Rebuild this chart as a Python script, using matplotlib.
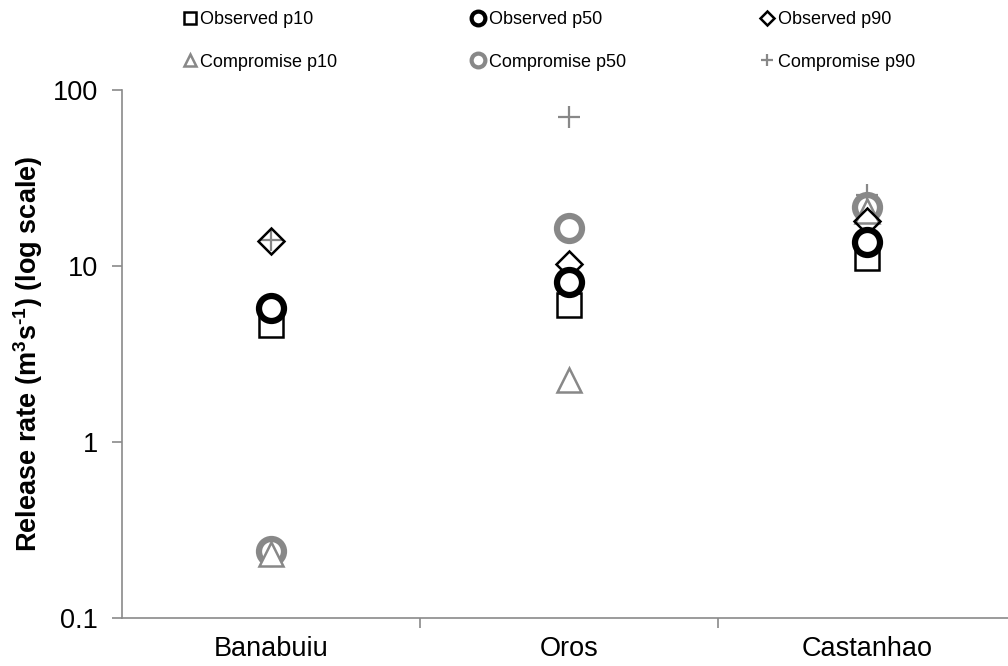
import numpy as np
import matplotlib.pyplot as plt
from matplotlib.ticker import FixedLocator, NullLocator, FixedFormatter

plt.rcParams['font.family'] = ['Liberation Sans', 'DejaVu Sans']
plt.rcParams['mathtext.fontset'] = 'custom'
plt.rcParams['mathtext.rm'] = 'Liberation Sans:bold'
plt.rcParams['mathtext.default'] = 'rm'

# reservoirs and release percentiles (m3/s)
reservoirs = ["Banabuiu", "Oros", "Castanhao"]
observed_p10 = [4.6, 6.0, 11.1]
observed_p50 = [5.8, 8.1, 13.7]
observed_p90 = [13.8, 10.3, 17.9]
compromise_p10 = [0.23, 2.25, 20.5]
compromise_p50 = [0.24, 16.4, 21.7]
compromise_p90 = [14.0, 70.0, 25.3]

GREY = "#888888"
AXIS = "#8a8a8a"

fig = plt.figure(figsize=(10.08, 6.66), dpi=100)
ax = fig.add_axes([0.121, 0.072, 0.887, 0.793])

x = np.arange(len(reservoirs))

# grey compromise series sit under the black observed ones
ax.plot(x, compromise_p50, ls="none", marker="o", ms=18, mfc="white", mec=GREY, mew=4.5,
        label="Compromise p50", zorder=2)
ax.plot(x, compromise_p10, ls="none", marker="^", ms=17, mfc="white", mec=GREY, mew=1.8,
        label="Compromise p10", zorder=3)
ax.plot(x, compromise_p90, ls="none", marker="+", ms=16, mec=GREY, mew=1.6,
        label="Compromise p90", zorder=2)
ax.plot(x, observed_p10, ls="none", marker="s", ms=17, mfc="white", mec="black", mew=1.8,
        label="Observed p10", zorder=4)
ax.plot(x, observed_p90, ls="none", marker="D", ms=13, mfc="none", mec="black", mew=1.8,
        label="Observed p90", zorder=5)
ax.plot(x, observed_p50, ls="none", marker="o", ms=18, mfc="white", mec="black", mew=4.5,
        label="Observed p50", zorder=6)

ax.set_yscale("log")
ax.set_ylim(0.1, 100)
ax.set_xlim(-0.5, 2.5)

ax.yaxis.set_major_locator(FixedLocator([0.1, 1, 10, 100]))
ax.yaxis.set_major_formatter(FixedFormatter(["0.1", "1", "10", "100"]))
ax.yaxis.set_minor_locator(NullLocator())

ax.set_xticks(x)
ax.set_xticklabels(reservoirs)
ax.set_xticks([0.5, 1.5, 2.5], minor=True)
ax.tick_params(axis="x", which="major", length=0, labelsize=19.5, pad=13)
ax.tick_params(axis="x", which="minor", length=7, color=AXIS, width=1.2)
ax.tick_params(axis="y", which="major", length=7, color=AXIS, width=1.2,
               labelsize=19.5, pad=10)

for side in ("top", "right"):
    ax.spines[side].set_visible(False)
for side in ("left", "bottom"):
    ax.spines[side].set_color(AXIS)
    ax.spines[side].set_linewidth(1.2)

ax.set_ylabel(r"Release rate (m$^{3}$s$^{\text{-}1}$) (log scale)", fontsize=19.5,
              fontweight="bold", labelpad=6)

# legend: observed on the top row, compromise below
handles, labels = ax.get_legend_handles_labels()
lookup = dict(zip(labels, handles))
order = ["Observed p10", "Compromise p10", "Observed p50", "Compromise p50",
         "Observed p90", "Compromise p90"]
leg_handles = []
for name in order:
    h = lookup[name]
    proxy, = ax.plot([], [], ls="none", marker=h.get_marker(), mfc=h.get_markerfacecolor(),
                     mec=h.get_markeredgecolor(), mew=min(h.get_markeredgewidth(), 3),
                     ms=h.get_markersize() * 0.55)
    leg_handles.append(proxy)
fig.legend(leg_handles, order, ncol=3, loc="upper left", bbox_to_anchor=(0.172, 1.0),
           frameon=False, fontsize=13, handlelength=0.6, handletextpad=0.3,
           columnspacing=7.5, labelspacing=1.43, borderaxespad=0.2)

fig.savefig("out.png", dpi=100)
